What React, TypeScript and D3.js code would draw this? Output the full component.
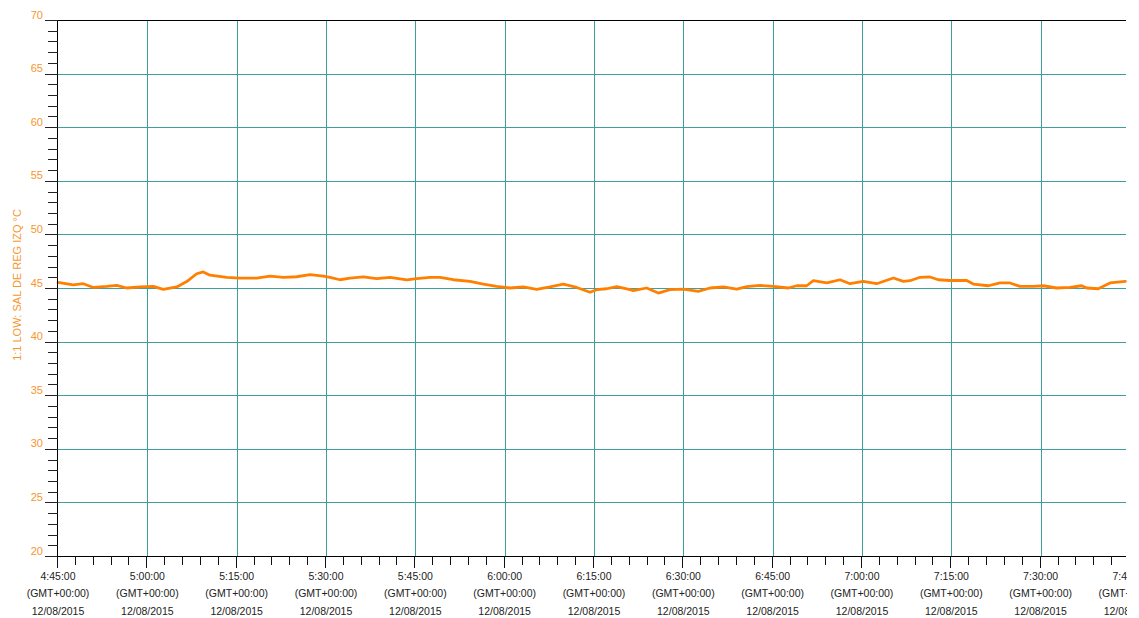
import React from "react";
import * as d3 from "d3";

const times: string[] = [
  "4:45:00","4:47:34","4:49:15","4:50:56","4:53:11","4:54:51","4:56:32","4:58:46",
  "5:01:00","5:02:41","5:04:56","5:06:37","5:08:17","5:09:24","5:10:31","5:13:20",
  "5:15:34","5:18:22","5:20:36","5:22:50","5:25:05","5:27:19","5:29:33",
  "5:30:40","5:32:21","5:34:02","5:36:16","5:38:31","5:40:45","5:43:33","5:45:14",
  "5:47:28","5:49:09","5:51:23","5:54:11","5:56:25","5:58:40","6:00:54","6:03:08",
  "6:05:23","6:07:37","6:09:51","6:12:06","6:14:20","6:15:27","6:17:08","6:18:49",
  "6:21:03","6:21:36","6:23:51","6:25:48","6:27:46","6:30:00","6:32:31","6:34:29",
  "6:36:43","6:38:58","6:40:39","6:42:53","6:45:07","6:47:38","6:49:02","6:50:43",
  "6:51:50","6:54:05","6:56:19","6:57:59","7:00:13","7:02:28","7:05:16","7:06:57",
  "7:08:04","7:09:45","7:11:25","7:12:49","7:14:47","7:17:35","7:18:42","7:21:13",
  "7:23:11","7:24:51","7:26:32","7:28:46","7:30:27","7:32:42","7:34:56","7:36:54",
  "7:37:44","7:39:41","7:41:39","7:44:13",
];

const temps: number[] = [
  45.52,45.3,45.4,45.05,45.15,45.25,45.0,45.1,
  45.15,44.87,45.1,45.6,46.33,46.5,46.2,46.0,
  45.93,45.93,46.1,46.0,46.05,46.25,46.1,
  46.0,45.77,45.93,46.03,45.87,46.0,45.75,45.87,
  46.0,46.0,45.77,45.62,45.37,45.15,45.0,45.1,
  44.87,45.1,45.37,45.05,44.6,44.84,44.93,45.12,
  44.84,44.75,45.0,44.53,44.84,44.9,44.69,45.0,
  45.1,44.9,45.12,45.24,45.15,45.0,45.21,45.21,
  45.68,45.47,45.77,45.4,45.62,45.4,45.93,45.62,
  45.68,46.0,46.03,45.77,45.7,45.7,45.37,45.21,
  45.47,45.47,45.15,45.15,45.21,45.0,45.05,45.21,
  45.0,44.93,45.47,45.62,
];

const startTime = "4:45:00";
const endTime = "7:44:20";
const labelEndTime = "7:45:00";
const yMin = 20;
const yMax = 70;
const yTickValues: number[] = [20, 25, 30, 35, 40, 45, 50, 55, 60, 65, 70];
const tzLabel = "(GMT+00:00)";
const dateLabel = "12/08/2015";
const yTitle = "1:1 LOW: SAL DE REG IZQ °C";

const parse = d3.timeParse("%H:%M:%S");
const fmt = d3.timeFormat("%-H:%M:%S");

const W = 1127;
const H = 618;
const left = 58;
const right = 1126;
const top = 20;
const bottom = 556;

const orange = "#f7962f";
const lineColor = "#ff8000";
const grid = "#3e9f9b";
const font = "'Liberation Sans', Arial, sans-serif";

export default function App() {
  const x = d3.scaleTime().domain([parse(startTime)!, parse(endTime)!]).range([left, right]);
  const y = d3.scaleLinear().domain([yMin, yMax]).range([bottom, top]);

  const data = times.map((t, i) => ({ t: parse(t)!, v: temps[i] }));
  const line = d3.line<{ t: Date; v: number }>().x(d => x(d.t)).y(d => y(d.v));

  const majorX = d3.timeMinute.every(15)!.range(parse(startTime)!, d3.timeSecond.offset(parse(labelEndTime)!, 1));
  const minorX = d3.timeMinute.every(3)!.range(parse(startTime)!, parse(endTime)!);
  const minorY = d3.range(yMin, yMax + 1, 1);

  return (
    <div style={{ position: "absolute", left: 0, top: 0, width: W, height: H, overflow: "hidden", background: "#fff" }}>
      <svg width={W} height={H} style={{ display: "block" }} fontFamily={font}>
        <rect x={0} y={0} width={W} height={H} fill="#fff" />
        {yTickValues.filter(v => v > yMin && v < yMax).map(v => (
          <line key={"hg" + v} x1={left} x2={right} y1={Math.round(y(v)) + 0.5} y2={Math.round(y(v)) + 0.5} stroke={grid} strokeWidth={1} />
        ))}
        {majorX.filter(d => x(d) > left + 1 && x(d) < right).map((d, i) => (
          <line key={"vg" + i} x1={Math.round(x(d)) + 0.5} x2={Math.round(x(d)) + 0.5} y1={top} y2={bottom} stroke={grid} strokeWidth={1} />
        ))}
        <path d={line(data) || ""} fill="none" stroke={lineColor} strokeWidth={2.8} strokeLinejoin="round" strokeLinecap="round" />
        <line x1={45} x2={right} y1={top + 0.5} y2={top + 0.5} stroke="#000" />
        <line x1={45} x2={right} y1={bottom + 0.5} y2={bottom + 0.5} stroke="#000" />
        <line x1={left - 0.5} x2={left - 0.5} y1={top} y2={bottom + 12} stroke="#000" />
        {minorY.map(v => {
          const major = v % 5 === 0;
          const yy = Math.round(y(v)) + 0.5;
          return <line key={"yt" + v} x1={major ? 45 : 48} x2={left} y1={yy} y2={yy} stroke="#222" />;
        })}
        {yTickValues.map(v => (
          <text key={"yl" + v} x={43} y={y(v) - 1.5} textAnchor="end" fontSize={11} fill={orange}>{v}</text>
        ))}
        <text transform={`translate(21,285) rotate(-90)`} textAnchor="middle" fontSize={11} fill={orange}>{yTitle}</text>
        {minorX.map((d, i) => {
          const xx = Math.round(x(d)) - 0.5;
          const major = d.getMinutes() % 15 === 0;
          return <line key={"xt" + i} x1={xx} x2={xx} y1={bottom} y2={bottom + (major ? 12 : 9)} stroke="#111" />;
        })}
        {majorX.map((d, i) => (
          <g key={"xl" + i} transform={`translate(${x(d)},0)`} fontSize={10.5} fill="#222" textAnchor="middle">
            <text y={580}>{fmt(d)}</text>
            <text y={597}>{tzLabel}</text>
            <text y={615}>{dateLabel}</text>
          </g>
        ))}
      </svg>
    </div>
  );
}
